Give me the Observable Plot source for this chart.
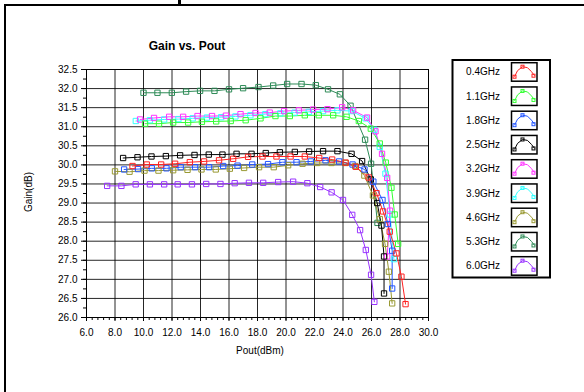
<!DOCTYPE html>
<html><head><meta charset="utf-8">
<script src="https://cdn.jsdelivr.net/npm/d3@7"></script>
<script src="https://cdn.jsdelivr.net/npm/@observablehq/plot@0.6"></script>
<style>
html,body{margin:0;padding:0;background:#fff;}
svg{font-family:"Liberation Sans",Arial,sans-serif;}
</style></head>
<body><div id="chart"></div>
<script>
const freqs = ["0.4GHz","1.1GHz","1.8GHz","2.5GHz","3.2GHz","3.9GHz","4.6GHz","5.3GHz","6.0GHz"];
const colors = ["#ff2222","#33ff33","#2255ff","#000000","#ff33ff","#33ffff","#999933","#2e8b57","#9933ff"];
const xTicks = [6,8,10,12,14,16,18,20,22,24,26,28,30];
const yTicks = [26.0,26.5,27.0,27.5,28.0,28.5,29.0,29.5,30.0,30.5,31.0,31.5,32.0,32.5];

const pout04 = [9.23,10.23,11.24,12.22,13.25,14.25,15.3,16.29,17.34,18.35,19.33,20.32,21.32,22.33,23.24,24.18,24.9,25.8,26.35,26.81,27.28,27.75,28.1,28.39];
const gain04 = [29.97,30.01,30.01,30.03,30.07,30.09,30.12,30.16,30.21,30.22,30.22,30.22,30.22,30.18,30.14,30.06,29.95,29.67,29.26,28.78,28.25,27.68,27.07,26.35];
const pout11 = [10.11,11.09,12.08,13.13,14.1,15.1,16.12,17.17,18.21,19.26,20.27,21.32,22.3,23.31,24.25,25.11,25.95,26.58,27.0,27.4,27.63,27.87];
const gain11 = [31.08,31.08,31.11,31.11,31.13,31.14,31.15,31.17,31.22,31.28,31.28,31.3,31.3,31.3,31.26,31.15,30.95,30.56,30.06,29.4,28.7,27.93];
const pout18 = [8.64,9.62,10.58,11.61,12.61,13.62,14.6,15.59,16.6,17.63,18.74,19.75,20.74,21.74,22.77,23.73,24.67,25.51,26.13,26.77,27.15,27.45,27.45];
const gain18 = [29.88,29.89,29.91,29.91,29.94,29.94,29.94,29.97,29.98,30.01,30.02,30.07,30.07,30.09,30.12,30.09,30.01,29.88,29.56,29.08,28.45,27.75,26.76];
const pout25 = [8.57,9.58,10.56,11.57,12.57,13.58,14.58,15.54,16.53,17.58,18.58,19.57,20.62,21.62,22.6,23.61,24.6,25.34,25.95,26.4,26.7,26.88,26.88];
const gain25 = [30.18,30.2,30.22,30.23,30.25,30.26,30.27,30.27,30.29,30.29,30.31,30.33,30.34,30.35,30.36,30.36,30.29,30.1,29.62,29.0,28.41,27.6,26.63];
const pout32 = [9.76,10.74,11.8,12.78,13.79,14.81,15.78,16.81,17.86,18.86,19.87,20.9,21.9,22.91,23.94,24.71,25.69,26.28,26.74,27.1,27.3,27.1];
const gain32 = [31.19,31.23,31.26,31.26,31.28,31.28,31.29,31.33,31.36,31.37,31.41,31.43,31.45,31.46,31.51,31.43,31.24,30.88,30.29,29.66,28.8,27.6];
const pout39 = [9.46,10.45,11.45,12.45,13.45,14.45,15.45,16.45,17.5,18.55,19.6,20.6,21.6,22.6,23.61,24.6,25.58,26.2,26.58,26.98,27.3,27.57];
const gain39 = [31.15,31.17,31.19,31.2,31.22,31.24,31.25,31.27,31.3,31.33,31.35,31.37,31.39,31.41,31.43,31.41,31.22,30.92,30.47,29.77,28.7,27.53];
const pout46 = [8.0,9.02,10.07,11.05,12.08,13.09,14.07,15.07,16.06,17.06,18.11,19.14,20.15,21.16,22.18,23.19,24.18,24.85,25.5,26.1,26.58,26.95,27.22,27.45];
const gain46 = [29.83,29.82,29.85,29.85,29.86,29.87,29.88,29.88,29.9,29.92,29.94,29.94,29.99,30.03,30.05,30.05,30.05,29.97,29.72,29.2,28.58,27.93,27.2,26.37];
const pout53 = [10.0,10.98,11.99,12.99,13.97,14.98,16.0,16.99,18.07,19.1,20.08,21.09,22.09,22.95,23.78,24.53,25.55,25.97,26.42];
const gain53 = [31.89,31.89,31.89,31.92,31.94,31.94,31.98,32.01,32.04,32.08,32.12,32.12,32.09,31.98,31.85,31.55,30.66,30.03,28.48];
const pout60 = [7.45,8.45,9.45,10.45,11.45,12.4,13.4,14.4,15.4,16.4,17.4,18.4,19.45,20.5,21.5,22.4,23.2,24.0,24.65,25.2,25.6,25.97,26.2];
const gain60 = [29.45,29.45,29.49,29.49,29.49,29.49,29.49,29.5,29.5,29.52,29.53,29.53,29.55,29.56,29.52,29.42,29.28,29.08,28.69,28.29,27.77,27.12,26.41];

const series = [
  [pout04,gain04],[pout11,gain11],[pout18,gain18],[pout25,gain25],[pout32,gain32],
  [pout39,gain39],[pout46,gain46],[pout53,gain53],[pout60,gain60]
];
const rows = [];
for (let i = series.length - 1; i >= 0; i--) {
  const [xs, ys] = series[i];
  xs.forEach((x, j) => rows.push({freq: freqs[i], pout: x, gain: ys[j]}));
}
const minorX = d3.range(0, 61).map(i => 6 + i * 0.4);
const minorY = d3.range(0, 27).map(i => 26 + i * 0.25);
const fmt = d3.format(".1f");

const chart = Plot.plot({
  width: 584, height: 392,
  marginLeft: 86, marginRight: 156, marginTop: 69, marginBottom: 75,
  style: {fontFamily: "'Liberation Sans', Arial, sans-serif", fontSize: "10px", color: "#000", background: "#fff"},
  x: {domain: [6, 30]},
  y: {domain: [26, 32.5]},
  color: {domain: freqs, range: colors},
  marks: [
    Plot.gridX(xTicks.slice(1, -1), {stroke: "#000", strokeOpacity: 0.85}),
    Plot.gridY(yTicks.slice(1, -1), {stroke: "#000", strokeOpacity: 0.85}),
    Plot.axisX(minorX, {tickSize: 3, tickFormat: () => "", label: null}),
    Plot.axisX(xTicks, {tickSize: 4, tickPadding: 7, tickFormat: fmt, label: null, fontSize: 10}),
    Plot.axisY(minorY, {tickSize: 3, tickFormat: () => "", label: null}),
    Plot.axisY(yTicks, {tickSize: 5, tickPadding: 4, tickFormat: fmt, label: null, fontSize: 10}),
    Plot.frame({stroke: "#000"}),
    Plot.line(rows, {x: "pout", y: "gain", z: "freq", stroke: "freq", strokeWidth: 1}),
    Plot.dot(rows, {x: "pout", y: "gain", stroke: "freq", symbol: "square", r: 3, strokeWidth: 1, fill: "none"})
  ]
});
document.getElementById("chart").appendChild(chart);

const svg = d3.select(chart);
const ff = "'Liberation Sans', Arial, sans-serif";
// outer border (top and left)
svg.append("rect").attr("x", 4).attr("y", 4).attr("width", 580).attr("height", 2).attr("fill", "#000");
svg.append("rect").attr("x", 4).attr("y", 4).attr("width", 2).attr("height", 388).attr("fill", "#000");
svg.append("rect").attr("x", 178).attr("y", 0).attr("width", 3).attr("height", 4).attr("fill", "#000");
// title & axis labels
svg.append("text").attr("x", 187).attr("y", 50).attr("text-anchor", "middle")
  .attr("font-family", ff).attr("font-size", 12).attr("font-weight", "bold").text("Gain vs. Pout");
svg.append("text").attr("x", 260).attr("y", 353.5).attr("text-anchor", "middle")
  .attr("font-family", ff).attr("font-size", 10).text("Pout(dBm)");
svg.append("text").attr("transform", "translate(31.5,192) rotate(-90)").attr("text-anchor", "middle")
  .attr("font-family", ff).attr("font-size", 10).text("Gain(dB)");
// legend
const lg = svg.append("g");
lg.append("rect").attr("x", 452.5).attr("y", 60).attr("width", 97.5).attr("height", 217.5)
  .attr("fill", "none").attr("stroke", "#000").attr("stroke-width", 2);
freqs.forEach((f, i) => {
  const cy = 71.7 + i * 24.25;
  lg.append("text").attr("x", 500).attr("y", cy + 3.6).attr("text-anchor", "end")
    .attr("font-family", ff).attr("font-size", 10).text(f);
  lg.append("rect").attr("x", 511.5).attr("y", cy - 9).attr("width", 25.5).attr("height", 18.5)
    .attr("fill", "#fff").attr("stroke", "#000").attr("stroke-width", 1.5);
  const g = lg.append("g").attr("transform", `translate(511.5,${cy - 9})`);
  g.append("path").attr("d", "M3,14 L6,8 L11,4 L16,5 L20,9 L23,13").attr("fill", "none")
    .attr("stroke", colors[i]).attr("stroke-width", 1);
  [[3,14],[11,4],[22,13]].forEach(([px, py]) =>
    g.append("rect").attr("x", px - 1.5).attr("y", py - 1.5).attr("width", 3).attr("height", 3)
      .attr("fill", "none").attr("stroke", colors[i]).attr("stroke-width", 1));
});
</script></body></html>
